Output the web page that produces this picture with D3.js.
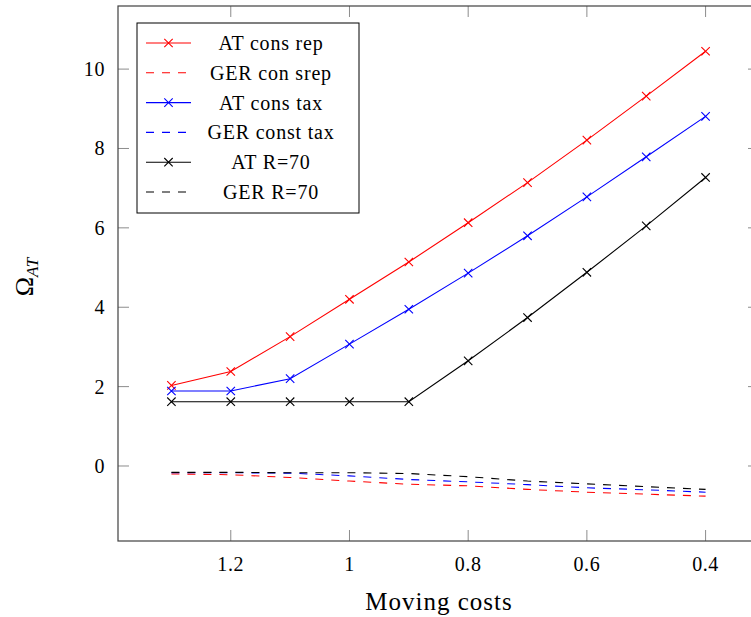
<!DOCTYPE html>
<html lang="en">
<head>
<meta charset="UTF-8">
<title>Moving costs</title>
<script src="https://d3js.org/d3.v7.min.js"></script>
<style>
  body { margin: 0; background: #fff; }
  text { font-family: "Liberation Serif", "Times New Roman", serif; fill: #000; }
</style>
</head>
<body>
<svg id="chart" width="751" height="617"></svg>
<script>
// moving costs (x axis, reversed)
const costs = [1.3, 1.2, 1.1, 1.0, 0.9, 0.8, 0.7, 0.6, 0.5, 0.4];

// series values
const atConsRep   = [2.03, 2.38, 3.26, 4.20, 5.14, 6.13, 7.14, 8.21, 9.32, 10.45];
const gerConsRep  = [-0.20, -0.22, -0.29, -0.38, -0.46, -0.50, -0.59, -0.66, -0.71, -0.76];
const atConsTax   = [1.89, 1.89, 2.20, 3.07, 3.95, 4.86, 5.80, 6.78, 7.79, 8.81];
const gerConsTax  = [-0.17, -0.17, -0.18, -0.25, -0.34, -0.40, -0.47, -0.55, -0.60, -0.66];
const atR70       = [1.62, 1.62, 1.62, 1.62, 1.62, 2.65, 3.74, 4.88, 6.05, 7.27];
const gerR70      = [-0.16, -0.16, -0.17, -0.17, -0.19, -0.27, -0.38, -0.45, -0.52, -0.59];

const xTicks = [1.2, 1.0, 0.8, 0.6, 0.4];
const yTicks = [0, 2, 4, 6, 8, 10];

const series = [
  { name: "AT cons rep",    values: atConsRep,  color: "#ff0000", dashed: false },
  { name: "GER con srep",   values: gerConsRep, color: "#ff0000", dashed: true },
  { name: "AT cons tax",    values: atConsTax,  color: "#0000ff", dashed: false },
  { name: "GER const tax",  values: gerConsTax, color: "#0000ff", dashed: true },
  { name: "AT R=70",        values: atR70,      color: "#000000", dashed: false },
  { name: "GER R=70",       values: gerR70,     color: "#000000", dashed: true }
];

const svg = d3.select("#chart");
const pl = 118, pr = 759, pt = 6, pb = 541;

// pgfplots style: 10% padding on both sides
const x = d3.scaleLinear().domain([1.39, 0.31]).range([pl, pr]);
const y = d3.scaleLinear().domain([-1.89, 11.59]).range([pb, pt]);

const tickLen = 11;

// ticks on all four sides, pointing in
const tickG = svg.append("g").attr("stroke", "#8c8c8c").attr("stroke-width", 1);
xTicks.forEach(t => {
  tickG.append("line").attr("x1", x(t)).attr("x2", x(t)).attr("y1", pb).attr("y2", pb - tickLen);
  tickG.append("line").attr("x1", x(t)).attr("x2", x(t)).attr("y1", pt).attr("y2", pt + tickLen);
});
yTicks.forEach(t => {
  tickG.append("line").attr("x1", pl).attr("x2", pl + tickLen).attr("y1", y(t)).attr("y2", y(t));
  tickG.append("line").attr("x1", pr).attr("x2", pr - tickLen).attr("y1", y(t)).attr("y2", y(t));
});

// frame
svg.append("rect")
  .attr("x", pl).attr("y", pt)
  .attr("width", pr - pl).attr("height", pb - pt)
  .attr("fill", "none").attr("stroke", "#404040").attr("stroke-width", 1.2);

// tick labels
svg.append("g").selectAll("text").data(xTicks).join("text")
  .attr("x", d => x(d)).attr("y", pb + 30)
  .attr("text-anchor", "middle").attr("font-size", 20)
  .attr("letter-spacing", 0.6)
  .text(d => String(+d.toFixed(1)));

svg.append("g").selectAll("text").data(yTicks).join("text")
  .attr("x", pl - 13).attr("y", d => y(d)).attr("dy", "0.35em")
  .attr("text-anchor", "end").attr("font-size", 20)
  .attr("letter-spacing", 0.6)
  .text(d => d);

// axis labels
svg.append("text")
  .attr("x", 439).attr("y", 610)
  .attr("text-anchor", "middle").attr("font-size", 25)
  .attr("letter-spacing", 1)
  .text("Moving costs");

const yl = svg.append("text")
  .attr("transform", "translate(33,277) rotate(-90)")
  .attr("text-anchor", "middle").attr("font-size", 26);
yl.append("tspan").text("Ω");
yl.append("tspan").attr("font-size", 17).attr("font-style", "italic")
  .attr("dy", 5).text("AT");

// lines and markers
const line = d3.line().x((d, i) => x(costs[i])).y(d => y(d));
const plotG = svg.append("g");

function cross(g, cx, cy, color, r) {
  g.append("path")
    .attr("d", `M${cx - r},${cy - r}L${cx + r},${cy + r}M${cx - r},${cy + r}L${cx + r},${cy - r}`)
    .attr("stroke", color).attr("stroke-width", 1.1).attr("fill", "none");
}

series.forEach(s => {
  plotG.append("path")
    .datum(s.values)
    .attr("d", line)
    .attr("fill", "none")
    .attr("stroke", s.color)
    .attr("stroke-width", 1.1)
    .attr("stroke-dasharray", s.dashed ? "8,8" : null);
  if (!s.dashed) {
    s.values.forEach((v, i) => cross(plotG, x(costs[i]), y(v), s.color, 4.2));
  }
});

// legend
const lg = svg.append("g");
lg.append("rect")
  .attr("x", 137).attr("y", 23).attr("width", 222).attr("height", 190)
  .attr("fill", "#fff").attr("stroke", "#000").attr("stroke-width", 1);

series.forEach((s, i) => {
  const ry = 43 + i * 29.8;
  lg.append("line")
    .attr("x1", 146).attr("x2", 191).attr("y1", ry).attr("y2", ry)
    .attr("stroke", s.color).attr("stroke-width", 1.1)
    .attr("stroke-dasharray", s.dashed ? "8,8" : null);
  if (!s.dashed) cross(lg, 168.5, ry, s.color, 4.2);
  lg.append("text")
    .attr("x", 271).attr("y", ry).attr("dy", "0.35em")
    .attr("text-anchor", "middle").attr("font-size", 20)
    .attr("letter-spacing", 0.8)
    .text(s.name);
});
</script>
</body>
</html>
